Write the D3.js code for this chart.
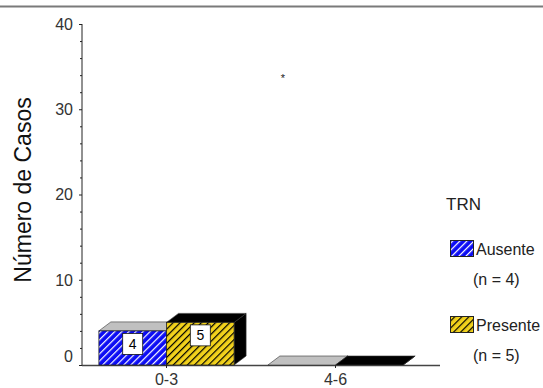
<!DOCTYPE html>
<html>
<head>
<meta charset="utf-8">
<script src="https://cdn.jsdelivr.net/npm/d3@7"></script>
<style>
  html, body { margin: 0; padding: 0; background: #fff; }
  svg { display: block; font-family: "Liberation Sans", Arial, sans-serif; }
</style>
</head>
<body>
<svg id="chart" width="543" height="388"></svg>
<script>
// Number of cases by TRN group
const categories = ["0-3", "4-6"];
const seriesNames = ["Ausente", "Presente"];
const ausenteValues = [4, 0];
const presenteValues = [5, 0];
const legendCounts = ["(n = 4)", "(n = 5)"];
const yTickValues = [0, 10, 20, 30, 40];

const series = [
  { name: seriesNames[0], values: ausenteValues, fill: "url(#hatchBlue)", top: "#c0c0c0", side: "#a0a0a0" },
  { name: seriesNames[1], values: presenteValues, fill: "url(#hatchYellow)", top: "#000", side: "#000" }
];

const svg = d3.select("#chart");
const defs = svg.append("defs");

function hatch(id, bg, stroke) {
  const p = defs.append("pattern")
    .attr("id", id)
    .attr("patternUnits", "userSpaceOnUse")
    .attr("width", 5).attr("height", 5)
    .attr("patternTransform", "rotate(45)");
  p.append("rect").attr("width", 5).attr("height", 5).attr("fill", bg);
  p.append("line").attr("x1", 0.6).attr("y1", 0).attr("x2", 0.6).attr("y2", 5)
    .attr("stroke", stroke).attr("stroke-width", 1.2);
}
hatch("hatchBlue", "#0c0cf4", "#ffffff");
hatch("hatchYellow", "#f2d21c", "#000000");

// frame line along the top
svg.append("line").attr("x1", 0).attr("x2", 543).attr("y1", 6.5).attr("y2", 6.5)
  .attr("stroke", "#7a7a7a").attr("stroke-width", 2);

const y = d3.scaleLinear().domain([0, 40]).range([365, 24]);
const x = d3.scaleBand().domain(categories).range([82, 420]).paddingInner(0.2).paddingOuter(0.1);
const xs = d3.scaleBand().domain(seriesNames).range([0, x.bandwidth()]);

const depthX = 12, depthY = -9;

// y axis with major and minor ticks
const axisX = 82;
const yAxis = d3.axisLeft(y).tickValues(yTickValues).tickSize(3).tickFormat(d3.format("d"));
const gy = svg.append("g").attr("transform", `translate(${axisX},0)`).call(yAxis);
gy.select(".domain").attr("stroke", "#222").attr("d", `M0,${y(40)}V${y(0)}`);
gy.selectAll(".tick line").attr("stroke", "#222");
gy.selectAll(".tick text")
  .attr("font-size", 16).attr("fill", "#333").attr("x", -9)
  .attr("dy", d => d === 0 ? "-0.2em" : "0.34em");
gy.selectAll(".minor").data(d3.range(2, 40, 2).filter(v => v % 10 !== 0)).enter()
  .append("line").attr("class", "minor")
  .attr("x1", -2).attr("x2", 0)
  .attr("y1", d => y(d) + 0.5).attr("y2", d => y(d) + 0.5)
  .attr("stroke", "#222");

// x baseline
svg.append("line").attr("x1", axisX).attr("x2", 440).attr("y1", y(0) + 0.5).attr("y2", y(0) + 0.5)
  .attr("stroke", "#444").attr("stroke-width", 1.3);

// category ticks and labels
categories.forEach(c => {
  const cx = x(c) + x.bandwidth() / 2;
  svg.append("line").attr("x1", cx).attr("x2", cx).attr("y1", y(0)).attr("y2", y(0) + 3).attr("stroke", "#222");
  svg.append("text").attr("x", cx).attr("y", 385).attr("text-anchor", "middle")
    .attr("font-size", 16).attr("fill", "#333").text(c);
});

// 3D bars: right side, top, then front face
const bars = svg.append("g");
categories.forEach((c, ci) => {
  series.forEach(s => {
    const v = s.values[ci];
    const x0 = x(c) + xs(s.name);
    const x1 = x0 + xs.bandwidth();
    const yt = y(v), yb = y(0);
    const g = bars.append("g");
    g.append("path")
      .attr("d", `M${x1},${yb}L${x1 + depthX},${yb + depthY}L${x1 + depthX},${yt + depthY}L${x1},${yt}Z`)
      .attr("fill", s.side).attr("stroke", "#333").attr("stroke-width", 0.6);
    g.append("path")
      .attr("d", `M${x0},${yt}L${x0 + depthX},${yt + depthY}L${x1 + depthX},${yt + depthY}L${x1},${yt}Z`)
      .attr("fill", s.top).attr("stroke", "#333").attr("stroke-width", 0.6);
    if (v > 0) {
      g.append("rect").attr("x", x0).attr("y", yt).attr("width", x1 - x0).attr("height", yb - yt)
        .attr("fill", s.fill).attr("stroke", "#222").attr("stroke-width", 0.8);
      const cx = (x0 + x1) / 2;
      g.append("rect").attr("x", cx - 10).attr("y", yt + 2.5).attr("width", 20).attr("height", 21)
        .attr("fill", "#fff").attr("stroke", "#111").attr("stroke-width", 0.8);
      g.append("text").attr("x", cx).attr("y", yt + 18).attr("text-anchor", "middle")
        .attr("font-size", 14).attr("fill", "#000").text(v);
    }
  });
});

// y axis title
svg.append("text")
  .attr("transform", "translate(31,190) rotate(-90)")
  .attr("text-anchor", "middle").attr("font-size", 23).attr("fill", "#111")
  .text("Número de Casos");

// stray marker above plot
svg.append("text").attr("x", 283).attr("y", 82).attr("text-anchor", "middle")
  .attr("font-size", 11).attr("fill", "#222").text("*");

// legend
const legend = svg.append("g");
legend.append("text").attr("x", 446).attr("y", 210).attr("font-size", 17).attr("fill", "#222").text("TRN");
series.forEach((s, i) => {
  const yy = 240 + i * 76;
  legend.append("rect").attr("x", 450.5).attr("y", yy + 0.5).attr("width", 23).attr("height", 16)
    .attr("fill", s.fill).attr("stroke", "#222").attr("stroke-width", 1);
  legend.append("text").attr("x", 476).attr("y", yy + 15).attr("font-size", 16).attr("fill", "#222").text(s.name);
  legend.append("text").attr("x", 473).attr("y", yy + 45).attr("font-size", 16).attr("fill", "#222").text(legendCounts[i]);
});
</script>
</body>
</html>
